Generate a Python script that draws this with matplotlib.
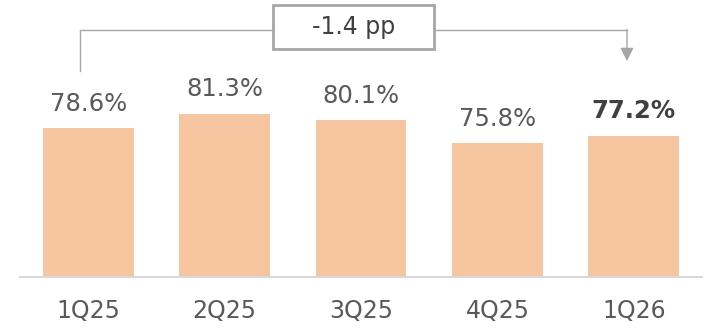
import matplotlib
matplotlib.use('Agg')
import matplotlib.pyplot as plt
import matplotlib.patches as mpatches

# ── Data ──────────────────────────────────────────────────────────────────────
quarters = ["1Q25", "2Q25", "3Q25", "4Q25", "1Q26"]
values   = [78.6, 81.3, 80.1, 75.8, 77.2]

BAR_COLOR  = '#F5C6A0'
TEXT_COLOR = '#595959'
LINE_COLOR = '#A6A6A6'

fig = plt.figure(figsize=(7.05, 3.28), dpi=100)
ax = fig.add_axes([20 / 705, 51 / 328, 682 / 705, 277 / 328])

x = list(range(len(quarters)))
ax.bar(x, values, width=0.667, color=BAR_COLOR, zorder=2)

ax.set_xlim(-0.5, 4.5)
ax.set_ylim(50.8, 102.5)

# value labels, latest quarter in bold
for i, v in enumerate(values):
    last = i == len(values) - 1
    ax.annotate(f"{v:.1f}%", (i, v), xytext=(0, 9), textcoords='offset points',
                ha='center', va='bottom', fontsize=17.5,
                fontweight='bold' if last else 'normal',
                color='#404040' if last else TEXT_COLOR)

# axis styling
for side in ['top', 'right', 'left']:
    ax.spines[side].set_visible(False)
ax.spines['bottom'].set_color('#D9D9D9')
ax.spines['bottom'].set_linewidth(1.5)
ax.set_yticks([])
ax.set_xticks(x)
ax.set_xticklabels(quarters, fontsize=17, color=TEXT_COLOR)
ax.tick_params(axis='x', length=0, pad=16)

# change bracket from first to last quarter
delta = values[-1] - values[0]
x0, x1 = x[0] - 0.06, x[-1] - 0.05
y_top = 96.9
box_l, box_r = 1.352, 2.538
ax.plot([x0, x0, box_l], [89.2, y_top, y_top], color=LINE_COLOR, lw=1, zorder=3)
ax.plot([box_r, x1], [y_top, y_top], color=LINE_COLOR, lw=1, zorder=3)
ax.annotate('', xy=(x1, 91.1), xytext=(x1, y_top + 0.1),
            arrowprops=dict(arrowstyle='-|>', color=LINE_COLOR, lw=1,
                            mutation_scale=20, shrinkA=0, shrinkB=0))
ax.add_patch(mpatches.Rectangle((box_l, 93.3), box_r - box_l, 8.2,
                                facecolor='white', edgecolor=LINE_COLOR,
                                lw=2, zorder=4))
ax.text((box_l + box_r) / 2, 97.4, f"{delta:.1f} pp", ha='center', va='center',
        fontsize=17, color='#404040', zorder=5)

plt.savefig("out.png", dpi=100)
plt.close()
